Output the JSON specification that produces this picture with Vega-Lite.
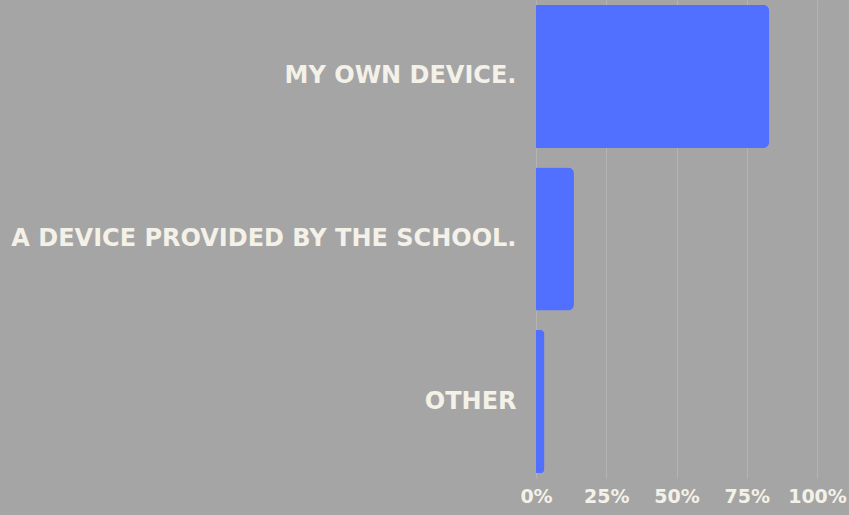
{
  "$schema": "https://vega.github.io/schema/vega-lite/v6.json",
  "autosize": "none",
  "width": 281,
  "height": 478,
  "padding": {"left": 536, "top": 0, "right": 32, "bottom": 37},
  "background": "#a5a5a5",
  "config": {"view": {"stroke": null}},
  "data": {"values": [
    {"answer": "MY OWN DEVICE.", "pct": 83},
    {"answer": "A DEVICE PROVIDED BY THE SCHOOL.", "pct": 13.5},
    {"answer": "OTHER", "pct": 3}
  ]},
  "mark": {"type": "bar", "color": "#5170ff", "cornerRadiusEnd": 6},
  "encoding": {
    "y": {
      "field": "answer", "type": "nominal", "sort": null, "title": null,
      "scale": {"paddingInner": 0.12, "paddingOuter": 0.03},
      "axis": {"domain": false, "ticks": false, "labelPadding": 20, "labelFont": "DejaVu Sans", "labelFontWeight": "bold", "labelFontSize": 24, "labelColor": "#f4f1e8", "labelLimit": 700}
    },
    "x": {
      "field": "pct", "type": "quantitative", "title": null,
      "scale": {"domain": [0, 100], "nice": false},
      "axis": {"values": [0, 25, 50, 75, 100], "labelExpr": "datum.value + '%'", "domain": false, "ticks": false, "labelPadding": 9, "labelFont": "DejaVu Sans", "labelFontWeight": "bold", "labelFontSize": 19, "labelColor": "#f4f1e8", "gridColor": "#b4b4b4", "gridWidth": 1, "labelFlush": false}
    }
  }
}
